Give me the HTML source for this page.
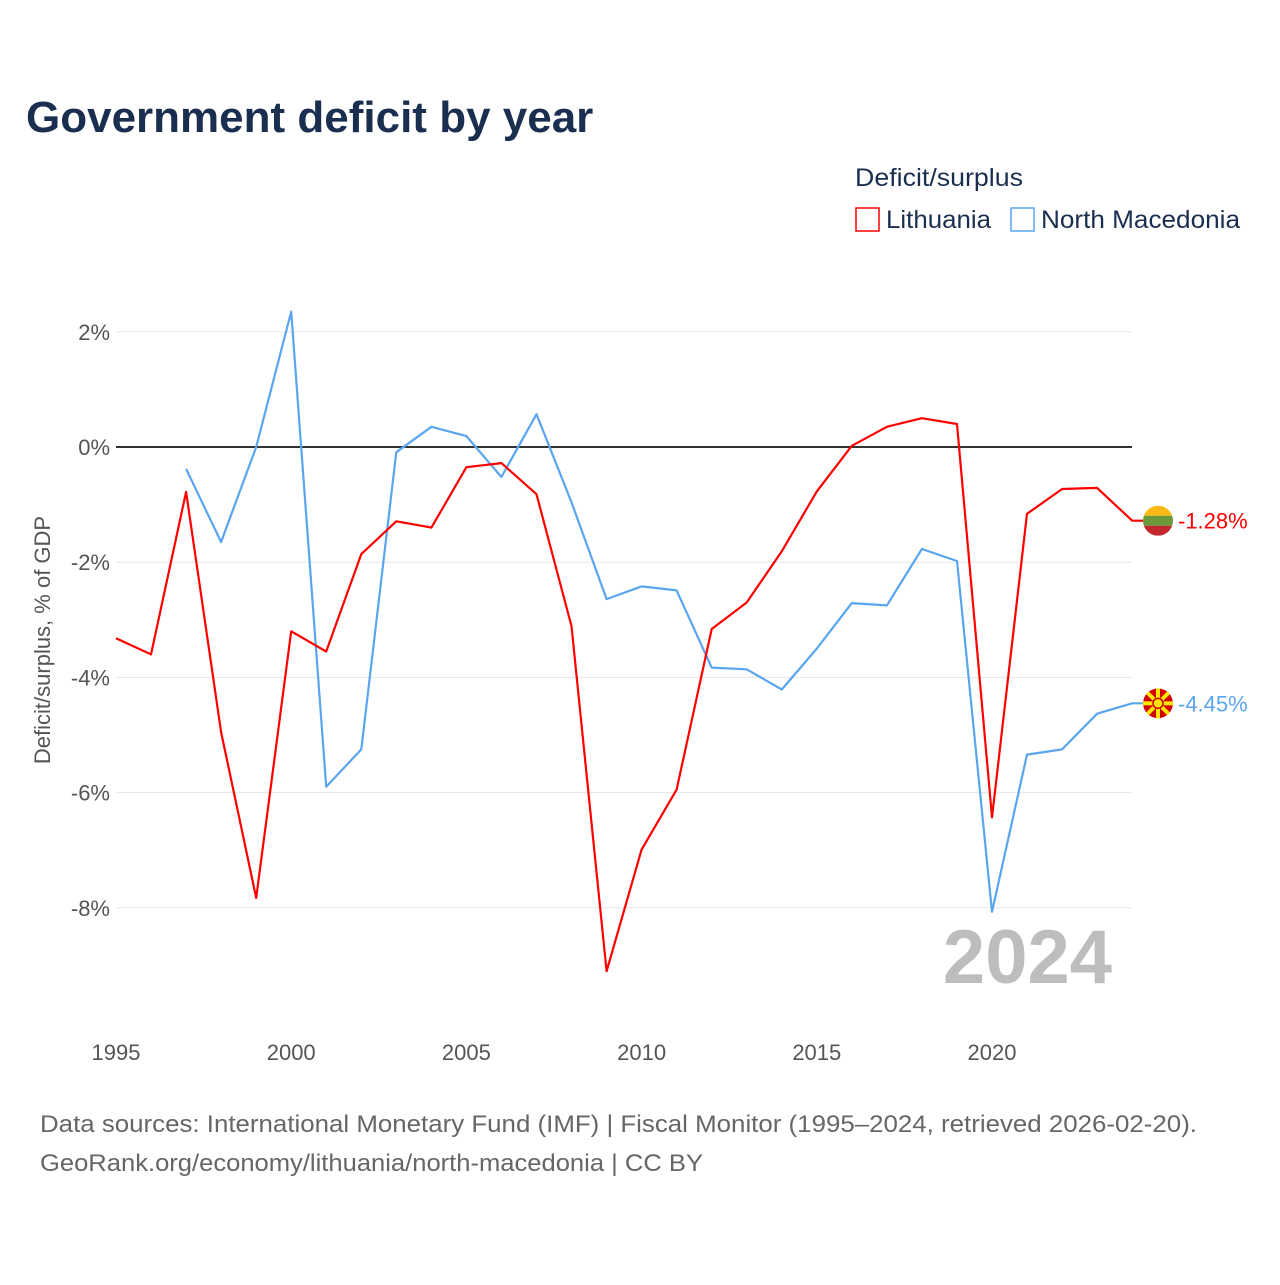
<!DOCTYPE html>
<html><head><meta charset="utf-8"><style>
body{margin:0;background:#fff;width:1280px;height:1280px;overflow:hidden;font-family:"Liberation Sans",sans-serif;}
</style></head><body>
<svg id="chart" width="1280" height="1280" xmlns="http://www.w3.org/2000/svg">
<text x="26" y="132" font-size="44" font-weight="bold" fill="#1a2e4f">Government deficit by year</text>
<text x="855" y="186" font-size="25" fill="#1a2e4f" textLength="168" lengthAdjust="spacingAndGlyphs">Deficit/surplus</text>
<g><rect x="856" y="208" width="23" height="23" fill="none" stroke="#ff0000" stroke-width="1.5"/><text x="886" y="228" font-size="25" fill="#1a2e4f" textLength="105" lengthAdjust="spacingAndGlyphs">Lithuania</text></g>
<g><rect x="1011" y="208" width="23" height="23" fill="none" stroke="#5aa5ef" stroke-width="1.5"/><text x="1041" y="228" font-size="25" fill="#1a2e4f" textLength="199" lengthAdjust="spacingAndGlyphs">North Macedonia</text></g>
<text transform="translate(50,640) rotate(-90)" text-anchor="middle" font-size="22" fill="#555">Deficit/surplus, % of GDP</text>
<text x="1112" y="983" text-anchor="end" font-size="76" font-weight="bold" fill="#bdbdbd">2024</text>
<text x="40" y="1132" font-size="24" fill="#666" textLength="1157" lengthAdjust="spacingAndGlyphs">Data sources: International Monetary Fund (IMF) | Fiscal Monitor (1995–2024, retrieved 2026-02-20).</text>
<text x="40" y="1171" font-size="24" fill="#666" textLength="663" lengthAdjust="spacingAndGlyphs">GeoRank.org/economy/lithuania/north-macedonia | CC BY</text>
<g id="plot"></g>
</svg>
<script>
const years=[1995,1996,1997,1998,1999,2000,2001,2002,2003,2004,2005,2006,2007,2008,2009,2010,2011,2012,2013,2014,2015,2016,2017,2018,2019,2020,2021,2022,2023,2024];
const lithuania=[-3.32,-3.6,-0.78,-4.95,-7.83,-3.2,-3.55,-1.86,-1.29,-1.4,-0.35,-0.28,-0.82,-3.11,-9.1,-6.99,-5.95,-3.16,-2.7,-1.81,-0.77,0.02,0.35,0.5,0.4,-6.43,-1.16,-0.73,-0.71,-1.28];
const macedonia=[null,null,-0.38,-1.65,0.0,2.35,-5.9,-5.25,-0.09,0.35,0.19,-0.52,0.57,-0.96,-2.64,-2.42,-2.49,-3.83,-3.86,-4.21,-3.5,-2.71,-2.75,-1.77,-1.98,-8.07,-5.34,-5.25,-4.63,-4.45];
const yTicks=[2,0,-2,-4,-6,-8];
const xTicks=[1995,2000,2005,2010,2015,2020];
const NS="http://www.w3.org/2000/svg";
const g=document.getElementById('plot');
const X=y=>116+(y-1995)*35.04;
const Y=v=>447-v*57.6;
function el(t,a){const e=document.createElementNS(NS,t);for(const k in a)e.setAttribute(k,a[k]);g.appendChild(e);return e;}
yTicks.forEach(v=>{
  const l=el('line',{x1:116,x2:1132,y1:Y(v),y2:Y(v),stroke:v===0?'#333':'#e6e6e6','stroke-width':v===0?2:1});
  
  
  const t=el('text',{x:110,y:Y(v)+8,'text-anchor':'end','font-size':22,fill:'#555'});
  t.textContent=v+'%';
  
  
});
xTicks.forEach(y=>{
  const t=el('text',{x:X(y),y:1060,'text-anchor':'middle','font-size':22,fill:'#555'});
  t.textContent=y;
  
  
});
function line(vals,color,name){
  let d='';vals.forEach((v,i)=>{if(v===null)return;d+=(d?'L':'M')+X(years[i]).toFixed(1)+','+Y(v).toFixed(1);});
  d+='L1143,'+Y(vals[vals.length-1]).toFixed(1);
  const p=el('path',{d:d,fill:'none',stroke:color,'stroke-width':2.2,'stroke-linejoin':'round'});
  
  
}
line(macedonia,'#5aa5ef','line-north-macedonia');
line(lithuania,'#ff0000','line-lithuania');
const lv=lithuania[lithuania.length-1], mv=macedonia[macedonia.length-1];
const lx=1158, ly=Y(lv);
const defs=el('defs',{});
defs.innerHTML='<clipPath id="cl"><circle cx="'+lx+'" cy="'+ly+'" r="15"/></clipPath><clipPath id="cm"><circle cx="'+lx+'" cy="'+Y(mv)+'" r="15"/></clipPath>';
const lf=el('g',{'clip-path':'url(#cl)'});


[['#fdb913',-15],['#6a9a3a',-5],['#c1272d',5]].forEach(([c,o])=>{const r=document.createElementNS(NS,'rect');r.setAttribute('x',lx-15);r.setAttribute('y',ly+o);r.setAttribute('width',30);r.setAttribute('height',10);r.setAttribute('fill',c);lf.appendChild(r);});
const lt=el('text',{x:1178,y:ly+8,'font-size':22,fill:'#ff0000'});
lt.textContent=lv.toFixed(2)+'%';


const my=Y(mv);
const mf=el('g',{'clip-path':'url(#cm)'});


mf.innerHTML='<circle cx="'+lx+'" cy="'+my+'" r="15" fill="#d20000"/>'+[0,45,90,135].map(a=>'<rect x="'+(lx-16)+'" y="'+(my-2)+'" width="32" height="4" fill="#ffe600" transform="rotate('+a+' '+lx+' '+my+')"/>').join('')+'<circle cx="'+lx+'" cy="'+my+'" r="5" fill="#ffe600" stroke="#d20000" stroke-width="1.5"/>';
const mt=el('text',{x:1178,y:my+8,'font-size':22,fill:'#5aa5ef'});
mt.textContent=mv.toFixed(2)+'%';


</script>
</body></html>
